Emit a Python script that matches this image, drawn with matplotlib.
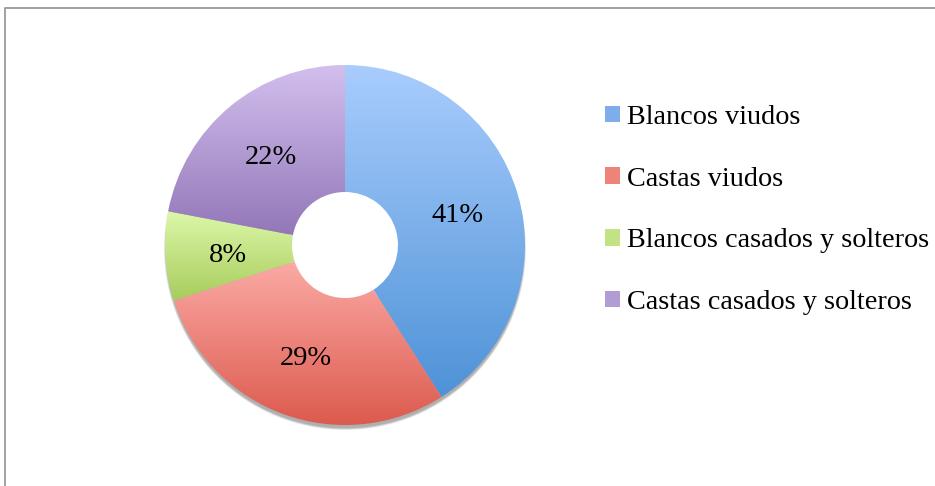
import matplotlib
matplotlib.use("Agg")
import matplotlib.pyplot as plt
import numpy as np
from matplotlib.colors import LinearSegmentedColormap
from matplotlib.patches import Patch, Wedge
from matplotlib.lines import Line2D

# data
labels = ["Blancos viudos", "Castas viudos",
          "Blancos casados y solteros", "Castas casados y solteros"]
values = [41, 29, 8, 22]
# gradient colours per slice: (top, bottom)
top_colors = ["#A9CDFD", "#FBAAA5", "#DCF7A9", "#D3C0EE"]
bottom_colors = ["#4E92D7", "#DC5A4E", "#A8CC5C", "#9377B8"]
legend_colors = ["#7DAEEA", "#EE837A", "#C3E283", "#B29CD4"]

W, H, DPI = 935, 486, 100
fig = plt.figure(figsize=(W / DPI, H / DPI), dpi=DPI)
fig.patch.set_facecolor("white")

# chart frame (only left and top edges are visible in the crop)
fig.add_artist(Line2D([5 / W, 5 / W, 1.0], [0.0, 1 - 8.5 / H, 1 - 8.5 / H],
                      transform=fig.transFigure, color="#A0A0A0", lw=1.4))

# pie axes: centre (345, 245) px, radius 180 px
R = 180.0
half = 200.0
cx, cy = 345.0, H - 245.0
ax = fig.add_axes([(cx - half) / W, (cy - half) / H, 2 * half / W, 2 * half / H])
hole = 53.0 / R

wedges, texts, autotexts = ax.pie(
    values, startangle=90, counterclock=False, radius=1.0,
    wedgeprops=dict(width=1 - hole, linewidth=0),
    autopct="%1.0f%%", pctdistance=0.65,
    textprops=dict(family="Liberation Serif", fontsize=20.5, color="black"))

# soft drop shadow, mostly below the ring
off = -4.0 / R
for k in range(6):
    rr = 1.0 + 0.4 * k / R - 1.0 / R
    sh = Wedge((0, off), rr, 0, 360, width=rr - 0.32,
               facecolor="#000000", alpha=0.06, lw=0, zorder=-5)
    ax.add_patch(sh)

# vertical gradient fill for each slice
grad = np.linspace(0, 1, 256).reshape(-1, 1)
for w, ct, cb in zip(wedges, top_colors, bottom_colors):
    bb = w.get_path().get_extents()
    cmap = LinearSegmentedColormap.from_list("g", [cb, ct])
    im = ax.imshow(grad, cmap=cmap, origin="lower", aspect="auto",
                   extent=[bb.x0, bb.x1, bb.y0, bb.y1], zorder=0.5)
    im.set_clip_path(w)
    w.set_facecolor("none")
    w.set_edgecolor("none")

for t in autotexts:
    t.set_zorder(5)
    x, y = t.get_position()
    t.set_position((x, y - 3.0 / R))

lim = half / R
ax.set_xlim(-lim, lim)
ax.set_ylim(-lim, lim)
ax.set_aspect("equal")
ax.axis("off")

handles = [Patch(facecolor=c, edgecolor="none") for c in legend_colors]
fig.legend(handles, labels, loc="upper left",
           bbox_to_anchor=(605 / W, 1 - 105 / H),
           frameon=False, prop=dict(family="Liberation Serif", size=20.3),
           handlelength=0.53, handleheight=0.53, handletextpad=0.25,
           labelspacing=1.30, borderaxespad=0, borderpad=0)

fig.savefig("out.png", dpi=DPI, facecolor="white")
